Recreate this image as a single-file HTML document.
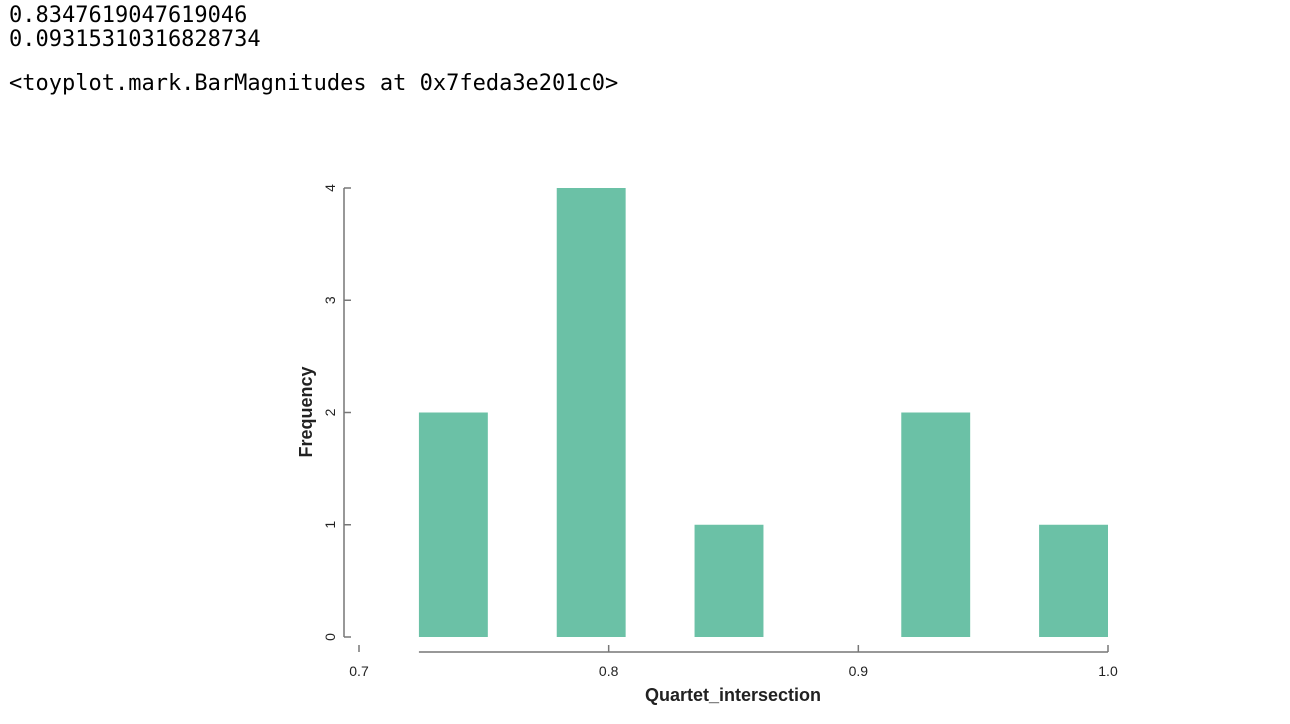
<!DOCTYPE html>
<html><head><meta charset="utf-8"><style>
body{margin:0;background:#fff;width:1290px;height:724px;overflow:hidden;position:relative}
.out{position:absolute;left:9px;font-family:"DejaVu Sans Mono","Liberation Mono",monospace;font-size:22px;line-height:24px;color:#000;white-space:pre}
</style></head><body>
<div class="out" style="top:4px">0.8347619047619046</div>
<div class="out" style="top:28px">0.09315310316828734</div>
<div class="out" style="top:72px">&lt;toyplot.mark.BarMagnitudes at 0x7feda3e201c0&gt;</div>
<svg id="chart" width="1290" height="724" style="position:absolute;left:0;top:0" font-family="Liberation Sans, sans-serif">
<g id="bars"></g>
<g id="axes"></g>
</svg>
<script>
const binStart = 0.724;
const binWidth = 0.0276;
const counts = [2,0,4,0,1,0,0,2,0,1];
const xTicks = [0.7,0.8,0.9,1.0];
const xTickLabels = ["0.7","0.8","0.9","1.0"];
const yTicks = [0,1,2,3,4];
const NS="http://www.w3.org/2000/svg";
const X=v=>359+(v-0.7)*(1108-359)/0.3;
const Y=v=>637-v*(637-188)/4;
function mk(t,a,p){const e=document.createElementNS(NS,t);for(const k in a)e.setAttribute(k,a[k]);p.appendChild(e);return e;}
const bars=document.getElementById('bars'),axes=document.getElementById('axes');
counts.forEach((c,i)=>{
  if(c<=0)return;
  const x0=X(binStart+i*binWidth),x1=X(binStart+(i+1)*binWidth);
  const r=mk('rect',{x:x0,y:Y(c),width:x1-x0,height:Y(0)-Y(c),fill:'#6bc1a6'},bars);
  
  
});
const xa=mk('line',{x1:X(binStart),x2:X(binStart+counts.length*binWidth),y1:652,y2:652,stroke:'#777','stroke-width':1.5},axes);


xTicks.forEach((v,i)=>{
  mk('line',{x1:X(v),x2:X(v),y1:645,y2:652,stroke:'#777','stroke-width':1.5},axes);
  const t=mk('text',{x:X(v),y:676,'text-anchor':'middle','font-size':14,fill:'#222'},axes);
  t.textContent=xTickLabels[i];
  
  
});
const ya=mk('line',{x1:344,x2:344,y1:Y(4),y2:Y(0),stroke:'#777','stroke-width':1.5},axes);


yTicks.forEach(v=>{
  mk('line',{x1:344,x2:351,y1:Y(v),y2:Y(v),stroke:'#777','stroke-width':1.5},axes);
  const t=mk('text',{x:0,y:0,'text-anchor':'middle','font-size':14,fill:'#222',transform:`translate(335,${Y(v)}) rotate(-90)`},axes);
  t.textContent=String(v);
  
  
});
const xt=mk('text',{x:733,y:701,'text-anchor':'middle','font-size':18,'font-weight':'bold',fill:'#222'},axes);
xt.textContent='Quartet_intersection';


const yt=mk('text',{x:0,y:0,'text-anchor':'middle','font-size':18,'font-weight':'bold',fill:'#222',transform:'translate(312,412) rotate(-90)'},axes);
yt.textContent='Frequency';


</script>
</body></html>
